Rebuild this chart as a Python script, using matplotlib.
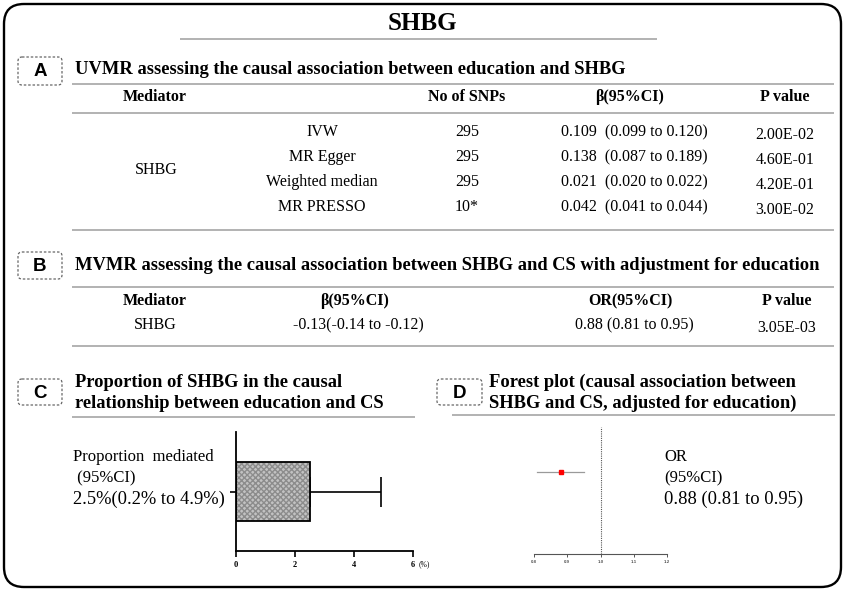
import numpy as np
import matplotlib.pyplot as plt
from matplotlib.patches import FancyBboxPatch

W, H = 844, 591
SERIF = "Liberation Serif"
SANS = "Liberation Sans"
LINE_GRAY = "#a6a6a6"

# ---- data ----
fig_title = "SHBG"

# panel A: UVMR education -> SHBG
uv_header = ["Mediator", "No of SNPs", "β(95%CI)", "P value"]
uv_mediator = "SHBG"
uv_methods = ["IVW", "MR Egger", "Weighted median", "MR PRESSO"]
uv_snps = ["295", "295", "295", "10*"]
uv_beta = ["0.109  (0.099 to 0.120)", "0.138  (0.087 to 0.189)",
           "0.021  (0.020 to 0.022)", "0.042  (0.041 to 0.044)"]
uv_p = ["2.00E-02", "4.60E-01", "4.20E-01", "3.00E-02"]

# panel B: MVMR SHBG -> CS
mv_header = ["Mediator", "β(95%CI)", "OR(95%CI)", "P value"]
mv_row = ["SHBG", "-0.13(-0.14 to -0.12)", "0.88 (0.81 to 0.95)", "3.05E-03"]

# panel C: proportion mediated (%)
prop_est = 2.5
prop_lo = 0.2
prop_hi = 4.9
prop_ticks = [0, 2, 4, 6]

# panel D: forest plot
or_est = 0.88
or_lo = 0.81
or_hi = 0.95
or_ticks = [0.8, 0.9, 1.0, 1.1, 1.2]

titles = {
    "A": "UVMR assessing the causal association between education and SHBG",
    "B": "MVMR assessing the causal association between SHBG and CS with adjustment for education",
    "C": "Proportion of SHBG in the causal\nrelationship between education and CS",
    "D": "Forest plot (causal association between\nSHBG and CS, adjusted for education)",
}

fig = plt.figure(figsize=(W / 100, H / 100), dpi=100)
base = fig.add_axes([0, 0, 1, 1])
base.set_xlim(0, W)
base.set_ylim(H, 0)
base.axis("off")


def px_axes(x0, y0, x1, y1):
    ax = fig.add_axes([x0 / W, 1 - y1 / H, (x1 - x0) / W, (y1 - y0) / H])
    ax.set_facecolor("none")
    return ax


def hline(y, x0, x1, color=LINE_GRAY, lw=1.2):
    base.plot([x0, x1], [y, y], color=color, lw=lw, solid_capstyle="butt")


def label_box(x0, y0, x1, y1, letter):
    box = FancyBboxPatch((x0, y0), x1 - x0, y1 - y0,
                         boxstyle="round,pad=0,rounding_size=4",
                         fill=False, edgecolor="#666666", lw=0.9,
                         linestyle=(0, (2, 1.5)))
    base.add_patch(box)
    base.text((x0 + x1) / 2, (y0 + y1) / 2 + 1, letter, family=SANS,
              fontweight="bold", fontsize=13.5, ha="center", va="center")


# outer frame
frame = FancyBboxPatch((4, 4), 837, 583, boxstyle="round,pad=0,rounding_size=20",
                       fill=False, edgecolor="black", lw=1.7)
base.add_patch(frame)

base.text(422, 23, fig_title, family=SERIF, fontweight="bold", fontsize=18,
          ha="center", va="center")
hline(39, 180, 657)

# ---- panel A ----
label_box(18, 57, 62, 85, "A")
base.text(75, 69, titles["A"], family=SERIF, fontweight="bold", fontsize=13.3,
          ha="left", va="center")
hline(84, 72, 834)
hx = [155, 467, 630, 785]
for x, s in zip(hx, uv_header):
    base.text(x, 97, s, family=SERIF, fontweight="bold", fontsize=11.5,
              ha="center", va="center")
hline(113, 72, 834)
rows_y = [132, 157, 182, 207]
base.text(156, 170, uv_mediator, family=SERIF, fontsize=11.5, ha="center", va="center")
for y, m, n, b, p in zip(rows_y, uv_methods, uv_snps, uv_beta, uv_p):
    base.text(322, y, m, family=SERIF, fontsize=11.5, ha="center", va="center")
    base.text(467, y, n, family=SERIF, fontsize=11.5, ha="center", va="center")
    base.text(634, y, b, family=SERIF, fontsize=11.5, ha="center", va="center")
    base.text(785, y + 3, p, family=SERIF, fontsize=11.5, ha="center", va="center")
hline(230, 72, 834)

# ---- panel B ----
label_box(18, 252, 62, 279, "B")
base.text(75, 265, titles["B"], family=SERIF, fontweight="bold", fontsize=13.3,
          ha="left", va="center")
hline(287, 72, 834)
bx = [155, 355, 630, 787]
for x, s in zip(bx, mv_header):
    base.text(x, 301, s, family=SERIF, fontweight="bold", fontsize=11.5,
              ha="center", va="center")
for i, (x, s) in enumerate(zip([155, 358, 634, 787], mv_row)):
    base.text(x, 325 + (3 if i == 3 else 0), s, family=SERIF, fontsize=11.5,
              ha="center", va="center")
hline(346, 72, 834)

# ---- panel C ----
label_box(18, 379, 62, 405, "C")
base.text(75, 393, titles["C"], family=SERIF, fontweight="bold", fontsize=13.3,
          ha="left", va="center", linespacing=1.3)
hline(417, 72, 415)
base.text(73, 457, "Proportion  mediated", family=SERIF, fontsize=12, ha="left", va="center")
base.text(73, 478, " (95%CI)", family=SERIF, fontsize=12, ha="left", va="center")
base.text(73, 499, f"{prop_est}%({prop_lo}% to {prop_hi}%)", family=SERIF,
          fontsize=13.3, ha="left", va="center")

axc = px_axes(236, 432, 413, 551)
axc.barh(1, prop_est, height=1.0, color="#c2c2c2", hatch="xxxxxx",
         edgecolor="#8c8c8c", lw=0, zorder=2)
axc.barh(1, prop_est, height=1.0, fill=False, edgecolor="black", lw=1.3, zorder=3)
axc.errorbar(prop_est, 1, xerr=[[0], [prop_hi - prop_est]], fmt="none",
             ecolor="black", elinewidth=1.2, capsize=10.8, capthick=1.2, zorder=1)
axc.set_xlim(0, 6)
axc.set_ylim(0, 2)
axc.spines[["top", "right"]].set_visible(False)
for sp in ["left", "bottom"]:
    axc.spines[sp].set_linewidth(1.3)
axc.set_yticks([1])
axc.set_yticklabels([])
axc.set_xticks(prop_ticks)
axc.set_xticklabels([str(v) for v in prop_ticks], family=SERIF,
                    fontweight="bold", fontsize=6)
axc.tick_params(axis="both", length=4, width=1.2, pad=3)
base.text(419, 564, "(%)", family=SERIF, fontsize=5.5, ha="left", va="center")

# ---- panel D ----
label_box(437, 379, 482, 405, "D")
base.text(489, 393, titles["D"], family=SERIF, fontweight="bold", fontsize=13.3,
          ha="left", va="center", linespacing=1.3)
hline(415, 452, 835)
base.text(664, 457, "OR", family=SERIF, fontsize=12, ha="left", va="center")
base.text(664, 478, "(95%CI)", family=SERIF, fontsize=12, ha="left", va="center")
base.text(664, 499, f"{or_est} ({or_lo} to {or_hi})", family=SERIF,
          fontsize=13.3, ha="left", va="center")

axd = px_axes(534, 427, 667, 554)
axd.axvline(1.0, color="#555555", lw=0.8, ls=(0, (1, 1)))
axd.plot([or_lo, or_hi], [1, 1], color="#9a9a9a", lw=0.9)
axd.plot([or_est], [1], marker="s", ms=2.2, color="red", mec="red", lw=0)
axd.set_xlim(0.8, 1.2)
axd.set_ylim(0, 1.55)
axd.spines[["top", "right", "left"]].set_visible(False)
axd.spines["bottom"].set_color("#555555")
axd.spines["bottom"].set_linewidth(0.8)
axd.set_yticks([])
axd.set_xticks(or_ticks)
axd.set_xticklabels([f"{v:.1f}" for v in or_ticks], family=SANS,
                    fontweight="bold", fontsize=3.2)
axd.tick_params(axis="x", length=2.5, width=0.7, pad=2, colors="#555555")

fig.savefig("out.png", dpi=100)
